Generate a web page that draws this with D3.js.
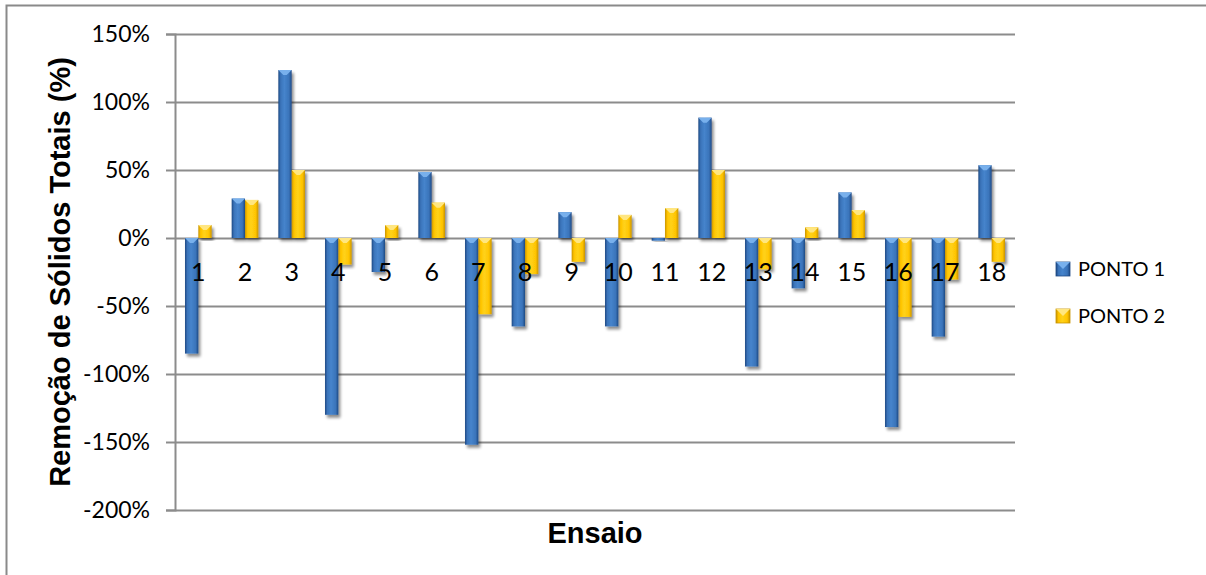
<!DOCTYPE html>
<html>
<head>
<meta charset="utf-8">
<script src="https://cdn.jsdelivr.net/npm/d3@7"></script>
<style>
  html, body { margin: 0; padding: 0; background: #fff; }
  svg { display: block; }
</style>
</head>
<body>
<svg id="chart" width="1206" height="575"></svg>
<script>
// Ensaios (trials) on the category axis
const ensaios = ["1","2","3","4","5","6","7","8","9","10","11","12","13","14","15","16","17","18"];
// Series names
const seriesNames = ["PONTO 1", "PONTO 2"];
// Total solids removal (fraction), one value per ensaio
const ponto1 = [-0.85, 0.29, 1.235, -1.30, -0.25, 0.485, -1.52, -0.65, 0.19, -0.65, -0.02, 0.885, -0.945, -0.37, 0.335, -1.39, -0.725, 0.535];
const ponto2 = [0.095, 0.28, 0.50, -0.195, 0.095, 0.26, -0.56, -0.265, -0.175, 0.17, 0.22, 0.50, -0.23, 0.078, 0.205, -0.58, -0.305, -0.175];
// Value-axis ticks
const yTicks = [1.5, 1.0, 0.5, 0, -0.5, -1.0, -1.5, -2.0];

const svg = d3.select("#chart");
const W = 1206, H = 575;
const plot = { left: 175, right: 1015, top: 34, bottom: 510 };

const x0 = d3.scaleBand().domain(ensaios).range([plot.left, plot.right]).paddingInner(0).paddingOuter(0);
const x1 = d3.scaleBand().domain(seriesNames).range([0, x0.bandwidth()]).paddingInner(0).paddingOuter(0.75);
const y = d3.scaleLinear().domain([-2, 1.5]).range([plot.bottom, plot.top]);

const palette = {
  "PONTO 1": { edge: "#1f4a84", mid: "#3a74ba", light: "#4684cc", cap: "#78b0ec" },
  "PONTO 2": { edge: "#c99400", mid: "#ffc400", light: "#ffd21a", cap: "#ffe680" }
};

// Defs: bar gradients and a soft drop shadow
const defs = svg.append("defs");
seriesNames.forEach((s, i) => {
  const g = defs.append("linearGradient").attr("id", "grad" + i)
    .attr("x1", "0%").attr("x2", "100%").attr("y1", "0%").attr("y2", "0%");
  g.append("stop").attr("offset", "0%").attr("stop-color", palette[s].edge);
  g.append("stop").attr("offset", "18%").attr("stop-color", palette[s].mid);
  g.append("stop").attr("offset", "45%").attr("stop-color", palette[s].light);
  g.append("stop").attr("offset", "80%").attr("stop-color", palette[s].mid);
  g.append("stop").attr("offset", "100%").attr("stop-color", palette[s].edge);
});
const shadow = defs.append("filter").attr("id", "shadow")
  .attr("x", "-50%").attr("y", "-20%").attr("width", "200%").attr("height", "140%");
shadow.append("feGaussianBlur").attr("in", "SourceAlpha").attr("stdDeviation", 1.6);
shadow.append("feOffset").attr("dx", 1.5).attr("dy", 2.5).attr("result", "off");
shadow.append("feComponentTransfer").append("feFuncA").attr("type", "linear").attr("slope", 0.45);
const merge = shadow.append("feMerge");
merge.append("feMergeNode");
merge.append("feMergeNode").attr("in", "SourceGraphic");

// Outer chart border
svg.append("rect")
  .attr("x", 6.5).attr("y", 5.5).attr("width", W + 10).attr("height", H + 10)
  .attr("fill", "none").attr("stroke", "#8a8a8a").attr("stroke-width", 2);

// Horizontal gridlines
svg.append("g").selectAll("line").data(yTicks).join("line")
  .attr("x1", plot.left).attr("x2", plot.right)
  .attr("y1", d => Math.round(y(d)) + 0.5).attr("y2", d => Math.round(y(d)) + 0.5)
  .attr("stroke", "#8c8c8c").attr("stroke-width", 2);

// Value axis
const yAxis = d3.axisLeft(y).tickValues(yTicks).tickSize(9).tickPadding(16)
  .tickFormat(d => Math.round(d * 100) + "%");
const gy = svg.append("g").attr("transform", `translate(${plot.left},0)`).call(yAxis);
gy.select(".domain").attr("stroke", "#8c8c8c").attr("stroke-width", 2);
gy.selectAll(".tick line").attr("stroke", "#8c8c8c").attr("stroke-width", 2);
gy.selectAll(".tick text").attr("font-family", "Lato, 'Open Sans', sans-serif")
  .attr("font-size", 23).attr("fill", "#000");

// Bars
const rows = ensaios.map((e, i) => ({ e, vals: [ponto1[i], ponto2[i]] }));
const bw = x1.bandwidth();
const capH = 5;
const groups = svg.append("g").selectAll("g").data(rows).join("g")
  .attr("transform", d => `translate(${x0(d.e)},0)`);
groups.each(function (row) {
  const g = d3.select(this);
  row.vals.forEach((v, i) => {
    const s = seriesNames[i];
    const bx = x1(s);
    const top = Math.min(y(v), y(0));
    const h = Math.abs(y(v) - y(0));
    const bar = g.append("g").attr("filter", "url(#shadow)");
    bar.append("rect").attr("x", bx).attr("y", top).attr("width", bw).attr("height", Math.max(h, 1))
      .attr("fill", `url(#grad${i})`);
    if (h > 3) {
      const ch = Math.min(capH, h);
      bar.append("path")
        .attr("d", `M${bx},${top}L${bx + bw},${top}L${bx + bw - ch},${top + ch}L${bx + ch},${top + ch}Z`)
        .attr("fill", palette[s].cap);
    }
  });
});

// Category labels sitting just under the zero line
svg.append("g").selectAll("text").data(ensaios).join("text")
  .attr("x", d => x0(d) + x0.bandwidth() / 2)
  .attr("y", y(0) + 43)
  .attr("text-anchor", "middle")
  .attr("font-family", "Lato, 'Open Sans', sans-serif")
  .attr("font-size", 25).attr("fill", "#000")
  .text(d => d);

// Axis titles
svg.append("text")
  .attr("x", 595).attr("y", 543)
  .attr("text-anchor", "middle")
  .attr("font-family", "'Liberation Sans', Arial, sans-serif")
  .attr("font-weight", "bold").attr("font-size", 29)
  .text("Ensaio");
svg.append("text")
  .attr("transform", "translate(70,272) rotate(-90)")
  .attr("text-anchor", "middle")
  .attr("font-family", "'Liberation Sans', Arial, sans-serif")
  .attr("font-weight", "bold").attr("font-size", 29)
  .text("Remoção de Sólidos Totais (%)");

// Legend
const legend = svg.append("g").selectAll("g").data(seriesNames).join("g")
  .attr("transform", (d, i) => `translate(1056,${262 + i * 47})`);
legend.append("rect").attr("width", 14).attr("height", 14)
  .attr("fill", (d, i) => `url(#grad${i})`)
  .attr("stroke", d => palette[d].edge).attr("stroke-width", 0.8);
legend.append("path").attr("d", "M0,0L14,0L7,7Z").attr("fill", d => palette[d].cap);
legend.append("text").attr("x", 22).attr("y", 7).attr("dy", "0.36em")
  .attr("font-family", "Lato, 'Open Sans', sans-serif")
  .attr("font-size", 20).attr("fill", "#000")
  .text(d => d);
</script>
</body>
</html>
